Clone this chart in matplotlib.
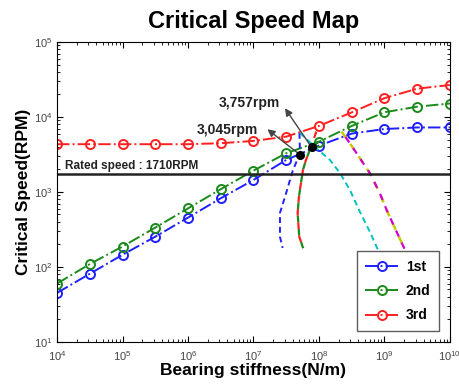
import matplotlib.pyplot as plt

plt.rcParams['font.family'] = ['Liberation Sans', 'DejaVu Sans']
plt.rcParams['mathtext.default'] = 'regular'

# stiffness values of the mode lines (N/m)
stiff = [1e4, 10**4.5, 1e5, 10**5.5, 1e6, 10**6.5, 1e7, 10**7.5, 1e8, 10**8.5, 1e9, 10**9.5, 1e10]
mode1 = [45, 81, 145, 253, 454, 822, 1445, 2670, 4140, 6000, 6900, 7240, 7240]
mode2 = [60, 109, 187, 334, 603, 1087, 1923, 3280, 4680, 7580, 11550, 13700, 15100]
mode3 = [4330, 4330, 4330, 4330, 4330, 4460, 4790, 5460, 7590, 11500, 17800, 23800, 26700]

# bearing stiffness curves (dashed)
blue_k = [5.04e7, 5.13e7, 4.46e7, 3.97e7, 3.03e7, 2.54e7, 2.54e7, 2.79e7]
blue_n = [6120, 3410, 2438, 1905, 857, 525, 251, 179]
rg_k = [5.75e7, 5.0e7, 4.73e7, 4.95e7, 5.70e7, 6.34e7, 7.55e7]
rg_n = [177, 254, 520, 865, 1963, 2673, 3981]
red_end = (9.66e7, 7362)
green_end = (1.0e8, 4677)
cyan_k = [5.13e7, 8.69e7, 1.47e8, 2.09e8, 2.97e8, 4.23e8, 6.01e8, 7.96e8]
cyan_n = [6120, 3981, 2673, 1791, 1064, 541, 293, 169]
mag_k = [2.22e8, 2.97e8, 4.23e8, 6.01e8, 8.53e8, 1.08e9, 1.45e9, 2.06e9]
mag_n = [6370, 4460, 2810, 1774, 959, 575, 328, 169]

rated = 1710
cross_k = [5.1e7, 7.7e7]
cross_n = [3150, 3950]

fig = plt.figure(figsize=(4.6, 3.85), dpi=100)
ax = fig.add_axes([0.124, 0.112, 0.854, 0.779])

mk = dict(marker='o', markersize=6.5, markerfacecolor='none', markeredgewidth=1.4, lw=1.4, linestyle='-.')
ax.plot(stiff, mode1, color='#1f1fff', label='1st', **mk)
ax.plot(stiff, mode2, color='#1a8a1a', label='2nd', **mk)
ax.plot(stiff, mode3, color='#ff2020', label='3rd', **mk)

ax.plot(blue_k, blue_n, color='#1f1fff', lw=1.4, linestyle=(0, (3, 2)))
ax.plot(rg_k + [green_end[0]], rg_n + [green_end[1]], color='#1a8a1a', lw=1.6, linestyle=(0, (3, 3)))
ax.plot(rg_k + [red_end[0]], rg_n + [red_end[1]], color='#ff2020', lw=1.6, linestyle=(3, (3, 3)))
ax.plot(cyan_k, cyan_n, color='#00c0c0', lw=1.4, linestyle=(0, (3, 2)))
ax.plot(mag_k, mag_n, color='#c8c800', lw=1.8, linestyle=(0, (3, 3)))
ax.plot(mag_k, mag_n, color='#d000d0', lw=1.6, linestyle=(3, (3, 3)))

ax.axhline(rated, color='#222222', lw=1.8)
ax.text(1.32e4, 2240, 'Rated speed : 1710RPM', fontsize=8.5, fontweight='bold', color='#222222', va='center')

ax.plot(cross_k, cross_n, 'o', color='black', markersize=5.5, zorder=5)
arrow = dict(arrowstyle='-|>', color='#444444', lw=1.0, mutation_scale=11, shrinkA=0, shrinkB=0)
ax.annotate('', xy=(1.63e7, 6850), xytext=(cross_k[0], cross_n[0]), arrowprops=arrow)
ax.annotate('', xy=(3.03e7, 13060), xytext=(cross_k[1], cross_n[1]), arrowprops=arrow)
ax.text(1.17e7, 6700, '3,045rpm', fontsize=10, fontweight='bold', color='#222222', ha='right', va='center')
ax.text(2.55e7, 15200, '3,757rpm', fontsize=10, fontweight='bold', color='#222222', ha='right', va='center')

ax.set_xscale('log')
ax.set_yscale('log')
ax.set_xlim(1e4, 1e10)
ax.set_ylim(10, 1e5)
ax.tick_params(which='both', direction='in', top=True, right=True, labelsize=8, labelcolor='#444444')
ax.tick_params(which='major', length=4)
ax.tick_params(which='minor', length=2)
ax.tick_params(axis='x', pad=5)

ax.set_title('Critical Speed Map', fontsize=17, fontweight='bold', pad=10)
ax.set_xlabel('Bearing stiffness(N/m)', fontsize=12.5, fontweight='bold', labelpad=0)
ax.set_ylabel('Critical Speed(RPM)', fontsize=12.5, fontweight='bold', labelpad=2)

leg = ax.legend(loc='lower right', handlelength=2.4, handletextpad=0.5, frameon=True, fancybox=False,
                edgecolor='#333333', borderaxespad=0.8, labelspacing=0.75, borderpad=0.6,
                prop=dict(weight='bold', size=10))
leg.get_frame().set_linewidth(1.0)

plt.savefig('out.png', dpi=100)
